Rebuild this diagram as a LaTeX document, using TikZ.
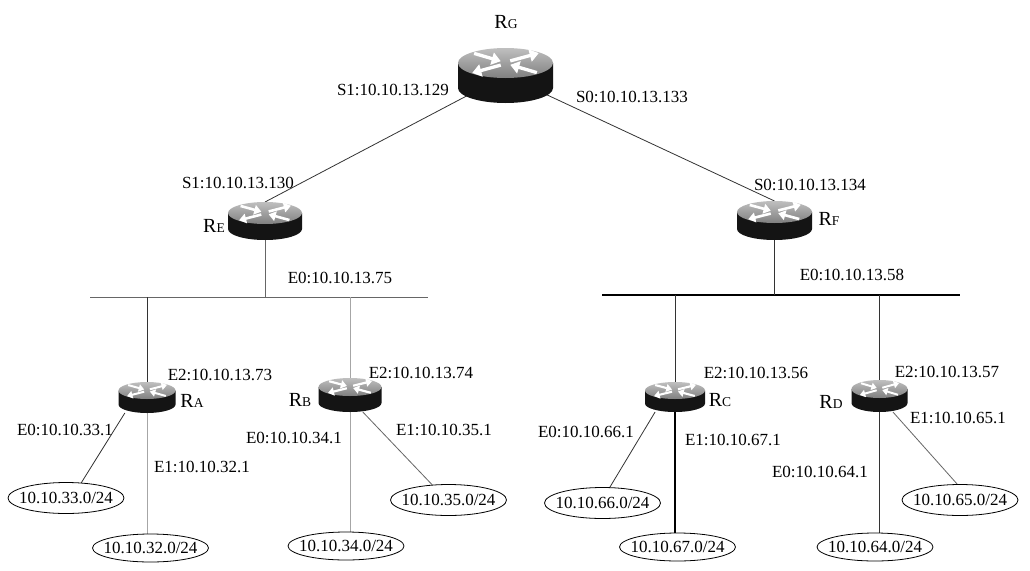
\documentclass[tikz,border=0pt]{standalone}
\usepackage{fontspec}
\setmainfont{Liberation Serif}
\usetikzlibrary{arrows.meta,calc,shapes.geometric}
\pgfdeclarelayer{bg}
\pgfsetlayers{bg,main}
\tikzset{
  lbl/.style={font=\fontsize{17}{20}\selectfont, inner sep=0pt},
  rlbl/.style={inner sep=0pt},
  routerbox/.style={draw=none, inner sep=0pt, outer sep=0pt, rectangle},
  net/.style={draw=black, line width=0.8pt, ellipse, fill=white, minimum width=116pt, minimum height=31pt, inner sep=0pt, font=\fontsize{17}{20}\selectfont},
  netlow/.style={net, minimum height=28pt},
  dk/.style={draw=black!80, line width=0.8pt},
  md/.style={draw=black!60, line width=0.8pt},
  lt/.style={draw=black!35, line width=0.8pt},
  heavy/.style={draw=black, line width=1.8pt},
  bold/.style={draw=black, line width=1.2pt},
}
\newcommand\rname[1]{{\fontsize{20}{22}\selectfont R\fontsize{13.5}{15}\selectfont #1}}
\newcommand\nt[1]{\makebox[0pt]{#1}}
% #1 name, #2 cx, #3 cy (top ellipse centre), #4 rx, #5 ry, #6 body height
\newcommand\routerpic[6]{%
  \pgfmathsetmacro\rbw{2*#4}%
  \pgfmathsetmacro\rbh{2*#5+#6}%
  \pgfmathsetmacro\rbcy{#3+#6/2}%
  \pgfmathsetmacro\rlw{0.07*#4}%
  \pgfmathsetmacro\rtl{0.19*#4}%
  \pgfmathsetmacro\rtw{0.26*#4}%
  \node[routerbox, minimum width=\rbw pt, minimum height=\rbh pt] (#1) at (#2,\rbcy) {};
  \begin{scope}[shift={(#2,#3)}]
    \fill[black!92] (-#4,0) -- (-#4,#6) arc[start angle=180, end angle=360, x radius=#4pt, y radius=#5pt] -- (#4,0) -- cycle;
    \shade[top color=black!25, bottom color=black!50] (0,0) ellipse[x radius=#4pt, y radius=#5pt];
    \begin{scope}[xscale=#4, yscale=#5, white, line width=\rlw pt, arrows={-{Triangle[length=\rtl pt, width=\rtw pt]}}]
      \draw (-0.66,-0.64) -- (-0.1,-0.12);
      \draw (0.66,0.64) -- (0.1,0.12);
      \draw (0.1,-0.14) -- (0.7,-0.66);
      \draw (-0.1,0.14) -- (-0.7,0.66);
    \end{scope}
  \end{scope}}
\begin{document}
\begin{tikzpicture}[x=1pt, y=-1pt]
\useasboundingbox (0,0) rectangle (1030,570);

% routers
\routerpic{RG}{505.5}{63}{47.5}{15}{25}
\routerpic{RE}{265}{213}{37}{11}{16}
\routerpic{RF}{774.5}{212}{37.5}{11}{17}
\routerpic{RA}{147}{390.5}{28.5}{8.5}{14}
\routerpic{RB}{350}{387}{31.5}{9}{16}
\routerpic{RC}{675}{390.5}{30}{8.5}{13}
\routerpic{RD}{879.5}{389}{28}{9}{14}

% networks
\node[net] (n33) at (66,498) {\nt{10.10.33.0/24}};
\node[netlow] (n32) at (150.5,548) {\nt{10.10.32.0/24}};
\node[net] (n35) at (448.5,500) {\nt{10.10.35.0/24}};
\node[netlow] (n34) at (346,546) {\nt{10.10.34.0/24}};
\node[net] (n66) at (602.5,503) {\nt{10.10.66.0/24}};
\node[netlow] (n67) at (677.5,547) {\nt{10.10.67.0/24}};
\node[net] (n65) at (960,500) {\nt{10.10.65.0/24}};
\node[netlow] (n64) at (875,547) {\nt{10.10.64.0/24}};

% router names
\node[rlbl] (tRG) at (506,22) {\rname{G}};
\node[rlbl] (tRE) at (214,226) {\rname{E}};
\node[rlbl] (tRF) at (829,219) {\rname{F}};
\node[rlbl] (tRA) at (192,401) {\rname{A}};
\node[rlbl] (tRB) at (300,400) {\rname{B}};
\node[rlbl] (tRC) at (720,400) {\rname{C}};
\node[rlbl] (tRD) at (831,402) {\rname{D}};

% interface labels
\node[lbl] (iG1) at (393,90) {S1:10.10.13.129};
\node[lbl] (iG0) at (632,97) {S0:10.10.13.133};
\node[lbl] (iE1) at (238,183) {S1:10.10.13.130};
\node[lbl] (iE0) at (340,278) {E0:10.10.13.75};
\node[lbl] (iF0) at (810,185) {S0:10.10.13.134};
\node[lbl] (iFE) at (852,275) {E0:10.10.13.58};
\node[lbl] (iA2) at (220,375) {E2:10.10.13.73};
\node[lbl] (iA0) at (65,430) {E0:10.10.33.1};
\node[lbl] (iA1) at (202,467) {E1:10.10.32.1};
\node[lbl] (iB2) at (421,373) {E2:10.10.13.74};
\node[lbl] (iB0) at (294,438) {E0:10.10.34.1};
\node[lbl] (iB1) at (444,430) {E1:10.10.35.1};
\node[lbl] (iC2) at (756,373) {E2:10.10.13.56};
\node[lbl] (iC0) at (586,432) {E0:10.10.66.1};
\node[lbl] (iC1) at (733,440) {E1:10.10.67.1};
\node[lbl] (iD2) at (947,372) {E2:10.10.13.57};
\node[lbl] (iD1) at (958,418) {E1:10.10.65.1};
\node[lbl] (iD0) at (820,472) {E0:10.10.64.1};

% connectors (below routers)
\begin{pgfonlayer}{bg}
\fill[white] (0,0) rectangle (1030,570);
\coordinate (busLw) at (90,297);
\coordinate (busLe) at (428,297);
\coordinate (busRw) at (602,295);
\coordinate (busRe) at (960,295);
\draw[md] (busLw) -- (busLe);
\draw[heavy] (busRw) -- (busRe);
\draw[dk] (RG.center) -- (RE.north);
\draw[dk] (RG.center) -- (RF.north);
\draw[md] (RE.south) -- (RE.south |- busLw);
\draw[dk] (RA.north) -- (RA.north |- busLw);
\draw[lt] (RB.north) -- (RB.north |- busLw);
\draw[dk] (RF.south) -- (RF.south |- busRw);
\draw[dk] (RC.north) -- (RC.north |- busRw);
\draw[dk] (RD.north) -- (RD.north |- busRw);
\draw[dk] (RA.215) -- (n33.45);
\draw[lt] (RA.south) -- (RA.south |- n32.north);
\draw[lt] (RB.south) -- (RB.south |- n34.north);
\draw[md] (RB.-53) -- (n35.137);
\draw[dk] (RC.217) -- (n66.65);
\draw[bold] (RC.south) -- (RC.south |- n67.north);
\draw[dk] (RD.south) -- (RD.south |- n64.north);
\draw[md] (RD.-50) -- (n65.100);
\end{pgfonlayer}
\end{tikzpicture}
\end{document}
